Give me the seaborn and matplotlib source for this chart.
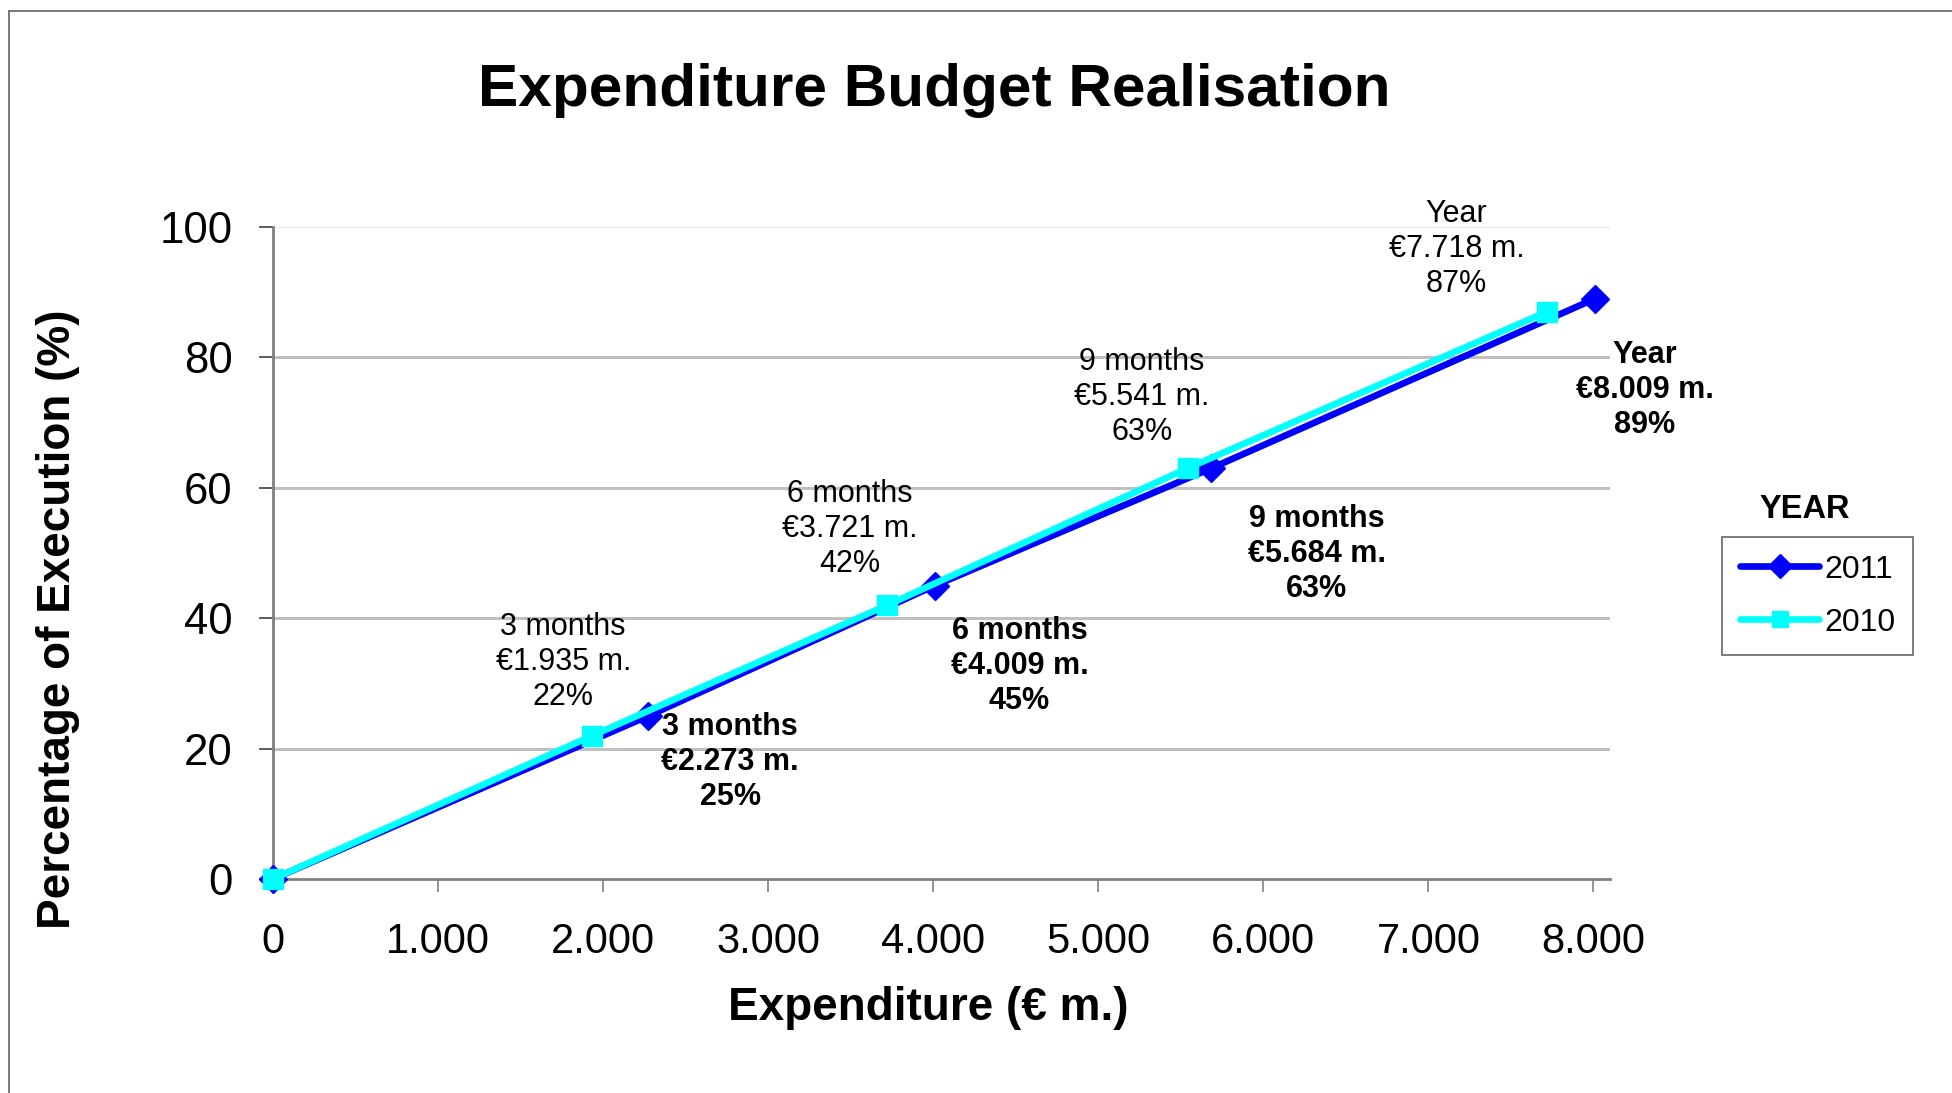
import matplotlib
matplotlib.use("Agg")
import matplotlib.pyplot as plt
from matplotlib.lines import Line2D
import seaborn as sns
import pandas as pd

# ---- data ----
periods = ["Start", "3 months", "6 months", "9 months", "Year"]
exp_2011 = [0, 2273, 4009, 5684, 8009]
pct_2011 = [0, 25, 45, 63, 89]
exp_2010 = [0, 1935, 3721, 5541, 7718]
pct_2010 = [0, 22, 42, 63, 87]
years = ["2011", "2010"]
x_ticks = [0, 1000, 2000, 3000, 4000, 5000, 6000, 7000, 8000]
x_tick_labels = ["0", "1.000", "2.000", "3.000", "4.000", "5.000", "6.000", "7.000", "8.000"]
y_ticks = [0, 20, 40, 60, 80, 100]

# ---- styles / positions ----
palette = {"2011": "#0000FF", "2010": "#00FFFF"}
markers = {"2011": "D", "2010": "s"}
offs_2010 = [(-21, 53), (-27, 55), (-33, 51), (-65, 45)]
offs_2011 = [(59, -33), (61, -58), (76, -62), (36, -66)]

sns.set_theme(style="white")
plt.rcParams["font.family"] = ["Liberation Sans", "DejaVu Sans"]
plt.rcParams["text.color"] = "black"
plt.rcParams["axes.labelcolor"] = "black"
plt.rcParams["xtick.color"] = "black"
plt.rcParams["ytick.color"] = "black"

df = pd.DataFrame({
    "exp": exp_2011 + exp_2010,
    "pct": pct_2011 + pct_2010,
    "year": ["2011"] * len(exp_2011) + ["2010"] * len(exp_2010),
    "period": periods + periods,
})

fig = plt.figure(figsize=(19.52, 10.93), dpi=100)
ax = fig.add_axes([273 / 1952, 1 - 879 / 1093, 1337 / 1952, 652 / 1093])

sns.lineplot(data=df, x="exp", y="pct", hue="year", style="year",
             hue_order=years, style_order=years, palette=palette,
             markers=markers, dashes=False, sort=False, estimator=None,
             linewidth=4.8, markersize=14, ax=ax, legend=False)
for ln in ax.lines:
    ln.set_markeredgecolor(ln.get_color())
    ln.set_markeredgewidth(1)
    ln.set_clip_on(False)
    ln.set_zorder(5)

ax.set_xlim(0, 8100)
ax.set_ylim(0, 100)
ax.set_xticks(x_ticks)
ax.set_xticklabels(x_tick_labels)
ax.set_yticks(y_ticks)
ax.tick_params(axis="x", labelsize=30, direction="out", length=9, width=1.2,
               color="#808080", labelcolor="black", pad=22, bottom=True)
ax.tick_params(axis="y", labelsize=31.5, direction="out", length=10, width=1.2,
               color="#404040", labelcolor="black", pad=19, left=True)

ax.grid(axis="y", color="#c0c0c0", linewidth=2.2)
ax.grid(axis="x", visible=False)
gl = ax.yaxis.get_gridlines()
gl[-1].set_color("#ececec")
gl[-1].set_linewidth(1.5)
gl[0].set_visible(False)
ax.set_axisbelow(True)

for s in ["top", "right"]:
    ax.spines[s].set_visible(False)
for s in ["left", "bottom"]:
    ax.spines[s].set_color("#808080")
    ax.spines[s].set_linewidth(2)

ax.set_xlabel("Expenditure (€ m.)", fontsize=33, fontweight="bold", color="black")
ax.xaxis.set_label_coords((928 - 273) / 1337, (879 - 1008) / 652)
ax.xaxis.label.set_verticalalignment("center")
ax.set_ylabel("Percentage of Execution (%)", fontsize=33, fontweight="bold", color="black")
ax.yaxis.set_label_coords((58 - 273) / 1337, (879 - 619) / 652)
ax.yaxis.label.set_verticalalignment("center")

# annotations
def fmt(p, v, pc):
    return f"{p}\n€{v:,}".replace(",", ".") + f" m.\n{pc}%"

for i in range(1, len(periods)):
    ax.annotate(fmt(periods[i], exp_2010[i], pct_2010[i]),
                xy=(exp_2010[i], pct_2010[i]), xytext=offs_2010[i - 1],
                textcoords="offset points", ha="center", va="center",
                fontsize=22, linespacing=1.22, color="black", annotation_clip=False)
    ax.annotate(fmt(periods[i], exp_2011[i], pct_2011[i]),
                xy=(exp_2011[i], pct_2011[i]), xytext=offs_2011[i - 1],
                textcoords="offset points", ha="center", va="center",
                fontsize=22, linespacing=1.22, fontweight="bold", color="black",
                annotation_clip=False)

# title
fig.text(934 / 1952, 1 - 90 / 1093, "Expenditure Budget Realisation",
         ha="center", va="center", fontsize=43.5, fontweight="bold", color="black")

# legend
handles = [Line2D([], [], color=palette[y], marker=markers[y], linewidth=4.8,
                  markersize=14, markeredgecolor=palette[y]) for y in years]
leg = fig.legend(handles, years, loc="upper left",
                 bbox_to_anchor=(1722 / 1952, 1 - 537 / 1093),
                 bbox_transform=fig.transFigure, fontsize=23,
                 frameon=True, fancybox=False, edgecolor="#404040",
                 handlelength=2.5, handletextpad=0.15, labelspacing=0.72,
                 borderpad=0.55, borderaxespad=0, markerscale=0.85)
leg.get_frame().set_linewidth(1.2)
for t in leg.get_texts():
    t.set_color("black")
fig.text(1805 / 1952, 1 - 509 / 1093, "YEAR", ha="center", va="center",
         fontsize=23.5, fontweight="bold", color="black")

# outer chart border (left and top)
fig.add_artist(Line2D([9 / 1952, 9 / 1952], [0, 1 - 11 / 1093],
                      transform=fig.transFigure, color="#606060", linewidth=1.2))
fig.add_artist(Line2D([9 / 1952, 1], [1 - 11 / 1093, 1 - 11 / 1093],
                      transform=fig.transFigure, color="#606060", linewidth=1.2))

fig.savefig("out.png", dpi=100, facecolor="white")
